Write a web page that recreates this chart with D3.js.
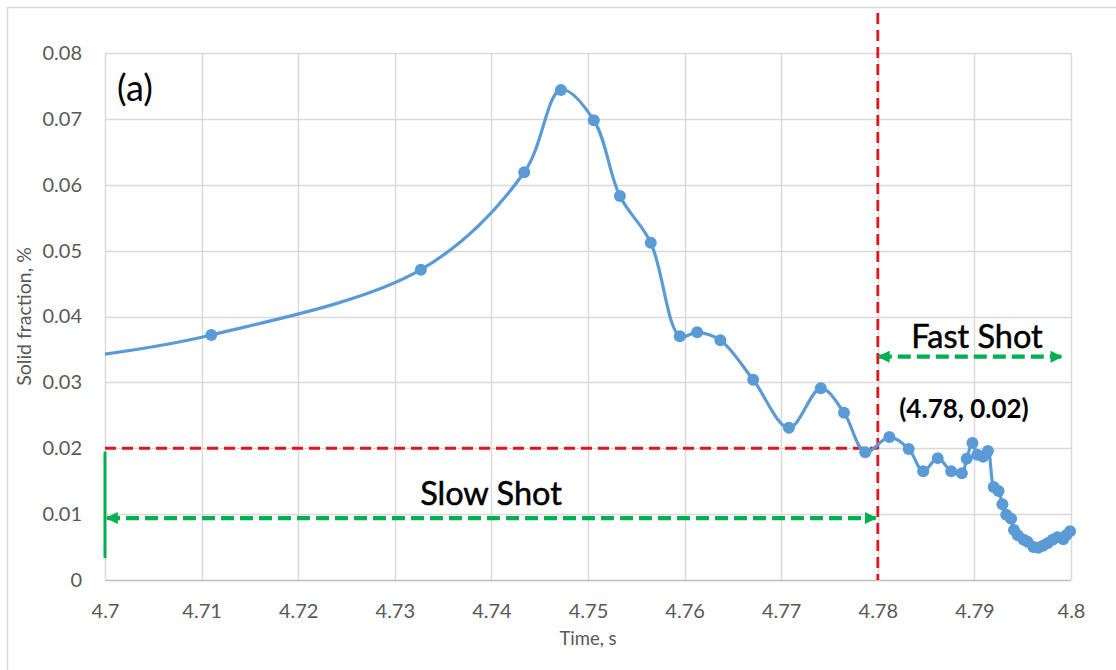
<!DOCTYPE html>
<html>
<head>
<meta charset="utf-8">
<script src="https://cdn.jsdelivr.net/npm/d3@7/dist/d3.min.js"></script>
<style>
  html, body { margin: 0; padding: 0; background: #fff; }
  svg { display: block; }
  text { font-family: Lato, "Open Sans", sans-serif; }
</style>
</head>
<body>
<svg id="chart" width="1116" height="670"></svg>
<script>
// Time (s) of each sample
const times = [4.7000, 4.7110, 4.7327, 4.7434, 4.7472, 4.7506, 4.7533, 4.7565,
  4.7595, 4.7613, 4.7637, 4.7671, 4.7708, 4.7741, 4.7765, 4.7787,
  4.7812, 4.7832, 4.7847, 4.7862, 4.7876, 4.7887, 4.7892, 4.7898,
  4.7903, 4.7909, 4.7914, 4.7920, 4.7925, 4.7929, 4.7933, 4.7938,
  4.7941, 4.7945, 4.7951, 4.7955, 4.7961, 4.7966, 4.7971, 4.7976,
  4.7981, 4.7986, 4.7992, 4.7995, 4.7999];
// Solid fraction (%) at each sample
const solidFraction = [0.0343, 0.0372, 0.0471, 0.0619, 0.0744, 0.0698, 0.0583, 0.0512,
  0.0370, 0.0376, 0.0364, 0.0304, 0.0231, 0.0291, 0.0254, 0.0194,
  0.0217, 0.0199, 0.0165, 0.0185, 0.0165, 0.0162, 0.0184, 0.0208,
  0.0190, 0.0187, 0.0196, 0.0141, 0.0135, 0.0115, 0.0099, 0.0093,
  0.0076, 0.0068, 0.0061, 0.0058, 0.0050, 0.0049, 0.0052, 0.0056,
  0.0061, 0.0065, 0.0062, 0.0068, 0.0074];
// The first sample sits on the axis edge and carries no marker
const markerShown = times.map((t, i) => i > 0);

const xTicks = [4.7, 4.71, 4.72, 4.73, 4.74, 4.75, 4.76, 4.77, 4.78, 4.79, 4.8];
const yTicks = [0, 0.01, 0.02, 0.03, 0.04, 0.05, 0.06, 0.07, 0.08];

const transitionTime = 4.78;
const transitionFraction = 0.02;
const shotArrowLevel = 0.0094;

const svg = d3.select("#chart");
const margin = { left: 105, right: 45, top: 53, bottom: 90 };
const W = 1116, H = 670;

const x = d3.scaleLinear().domain([4.7, 4.8]).range([margin.left, W - margin.right]);
const y = d3.scaleLinear().domain([0, 0.08]).range([H - margin.bottom, margin.top]);

// outer frame
svg.append("path")
  .attr("d", `M7.5,${H} V7.5 H${W}`)
  .attr("fill", "none").attr("stroke", "#d9d9d9").attr("stroke-width", 1.5);

// gridlines
const grid = svg.append("g");
grid.selectAll(".gx").data(xTicks).join("line")
  .attr("x1", d => Math.round(x(d)) + 0.5).attr("x2", d => Math.round(x(d)) + 0.5)
  .attr("y1", y(0.08)).attr("y2", y(0))
  .attr("stroke", "#d9d9d9").attr("stroke-width", 1.4);
grid.selectAll(".gy").data(yTicks).join("line")
  .attr("x1", x(4.7)).attr("x2", x(4.8))
  .attr("y1", d => Math.round(y(d)) + 0.5).attr("y2", d => Math.round(y(d)) + 0.5)
  .attr("stroke", d => d === 0 ? "#bfbfbf" : "#d9d9d9").attr("stroke-width", 1.4);

// axes (labels only; lines come from the grid)
const xAxis = svg.append("g").attr("transform", `translate(0,${y(0)})`)
  .call(d3.axisBottom(x).tickValues(xTicks).tickSize(0).tickPadding(24)
    .tickFormat(d => String(+d.toFixed(2))));
const yAxis = svg.append("g").attr("transform", `translate(${x(4.7)},0)`)
  .call(d3.axisLeft(y).tickValues(yTicks).tickSize(0).tickPadding(23)
    .tickFormat(d => d === 0 ? "0" : d.toFixed(2)));
[xAxis, yAxis].forEach(a => {
  a.select(".domain").remove();
  a.selectAll("text").attr("fill", "#595959").style("font-size", "20px")
    .style("font-family", "Lato, 'Open Sans', sans-serif");
});

svg.append("text").attr("x", (x(4.7) + x(4.8)) / 2).attr("y", 645)
  .attr("text-anchor", "middle").attr("fill", "#595959").style("font-size", "18.5px")
  .text("Time, s");
svg.append("text").attr("transform", `translate(31,${(y(0) + y(0.08)) / 2}) rotate(-90)`)
  .attr("text-anchor", "middle").attr("fill", "#595959").style("font-size", "19.5px")
  .text("Solid fraction, %");

// arrowhead markers
const defs = svg.append("defs");
defs.append("marker").attr("id", "arrowG")
  .attr("viewBox", "0 0 10 10").attr("refX", 9).attr("refY", 5)
  .attr("markerUnits", "userSpaceOnUse").attr("markerWidth", 14).attr("markerHeight", 12)
  .attr("orient", "auto-start-reverse")
  .append("path").attr("d", "M0,0 L10,5 L0,10 Z").attr("fill", "#00b050");

// red transition guides
const red = "#e3141c";
svg.append("line")
  .attr("x1", x(transitionTime)).attr("x2", x(transitionTime))
  .attr("y1", 13).attr("y2", y(0))
  .attr("stroke", red).attr("stroke-width", 2.8).attr("stroke-dasharray", "11,6");
svg.append("line")
  .attr("x1", x(4.7)).attr("x2", x(transitionTime))
  .attr("y1", y(transitionFraction)).attr("y2", y(transitionFraction))
  .attr("stroke", red).attr("stroke-width", 2.8).attr("stroke-dasharray", "11,6");

// green shot guides
const green = "#00b050";
svg.append("line")
  .attr("x1", x(4.7)).attr("x2", x(4.7))
  .attr("y1", y(0.0195)).attr("y2", y(0.0033))
  .attr("stroke", green).attr("stroke-width", 3);
svg.append("line")
  .attr("x1", x(4.7) + 2).attr("x2", x(transitionTime) - 2)
  .attr("y1", y(shotArrowLevel)).attr("y2", y(shotArrowLevel))
  .attr("stroke", green).attr("stroke-width", 4.2).attr("stroke-dasharray", "13,6")
  .attr("marker-start", "url(#arrowG)").attr("marker-end", "url(#arrowG)");
svg.append("line")
  .attr("x1", x(transitionTime) + 1).attr("x2", x(4.799))
  .attr("y1", y(0.0339)).attr("y2", y(0.0339))
  .attr("stroke", green).attr("stroke-width", 4.2).attr("stroke-dasharray", "13,6")
  .attr("marker-start", "url(#arrowG)").attr("marker-end", "url(#arrowG)");

// data series
const pts = times.map((t, i) => ({ t, v: solidFraction[i], m: markerShown[i] }));
const line = d3.line().x(d => x(d.t)).y(d => y(d.v)).curve(d3.curveCatmullRom.alpha(0.5));
svg.append("path").datum(pts).attr("d", line)
  .attr("fill", "none").attr("stroke", "#5b9bd5").attr("stroke-width", 3.2)
  .attr("stroke-linejoin", "round");
svg.append("g").selectAll("circle").data(pts.filter(d => d.m)).join("circle")
  .attr("cx", d => x(d.t)).attr("cy", d => y(d.v)).attr("r", 6)
  .attr("fill", "#5b9bd5");

// annotations
svg.append("text").attr("x", 117).attr("y", 101).attr("fill", "#000")
  .style("font-size", "36px").text("(a)");
svg.append("text").attr("x", 491).attr("y", 505).attr("text-anchor", "middle")
  .attr("fill", "#000").attr("stroke", "#000").attr("stroke-width", 0.5)
  .style("font-size", "32.5px").text("Slow Shot");
svg.append("text").attr("x", 977).attr("y", 348).attr("text-anchor", "middle")
  .attr("fill", "#000").attr("stroke", "#000").attr("stroke-width", 0.5)
  .style("font-size", "32.5px").text("Fast Shot");
svg.append("text").attr("x", 964).attr("y", 418).attr("text-anchor", "middle")
  .attr("fill", "#000").style("font-size", "26px").style("font-weight", "700").text("(4.78, 0.02)");
</script>
</body>
</html>
